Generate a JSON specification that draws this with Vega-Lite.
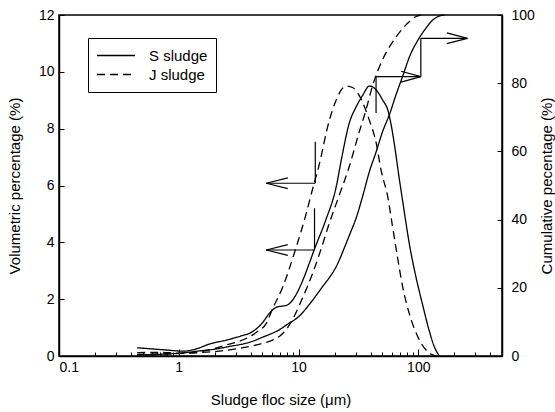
{
  "$schema": "https://vega.github.io/schema/vega-lite/v6.json",
  "width": 443,
  "height": 341,
  "autosize": {"type": "none"},
  "padding": {"left": 59, "top": 15, "right": 53, "bottom": 56},
  "background": "white",
  "config": {
    "font": "Liberation Sans",
    "view": {"stroke": "black", "strokeWidth": 1.5},
    "axis": {
      "grid": false,
      "domainColor": "black",
      "domainWidth": 1.5,
      "tickColor": "black",
      "tickWidth": 1,
      "labelColor": "black",
      "titleColor": "black",
      "labelFont": "Liberation Sans",
      "titleFont": "Liberation Sans",
      "labelFontSize": 14,
      "titleFontSize": 15,
      "titleFontWeight": "normal",
      "labelOverlap": false
    },
    "legend": {
      "labelFont": "Liberation Sans",
      "labelFontSize": 15,
      "labelColor": "black"
    }
  },
  "datasets": {
    "vol": [
      {"size": 0.45, "pct": 0.29, "sludge": "S sludge"},
      {"size": 0.74, "pct": 0.22, "sludge": "S sludge"},
      {"size": 1.09, "pct": 0.17, "sludge": "S sludge"},
      {"size": 1.4, "pct": 0.25, "sludge": "S sludge"},
      {"size": 1.8, "pct": 0.42, "sludge": "S sludge"},
      {"size": 2.5, "pct": 0.56, "sludge": "S sludge"},
      {"size": 3.4, "pct": 0.72, "sludge": "S sludge"},
      {"size": 3.9, "pct": 0.8, "sludge": "S sludge"},
      {"size": 5.0, "pct": 1.17, "sludge": "S sludge"},
      {"size": 5.7, "pct": 1.5, "sludge": "S sludge"},
      {"size": 6.5, "pct": 1.71, "sludge": "S sludge"},
      {"size": 8.1, "pct": 1.8, "sludge": "S sludge"},
      {"size": 9.2, "pct": 2.05, "sludge": "S sludge"},
      {"size": 10.6, "pct": 2.56, "sludge": "S sludge"},
      {"size": 12.3, "pct": 3.26, "sludge": "S sludge"},
      {"size": 13.5, "pct": 3.73, "sludge": "S sludge"},
      {"size": 16.9, "pct": 4.79, "sludge": "S sludge"},
      {"size": 20.5, "pct": 5.9, "sludge": "S sludge"},
      {"size": 23, "pct": 7.0, "sludge": "S sludge"},
      {"size": 26.5, "pct": 8.19, "sludge": "S sludge"},
      {"size": 30.3, "pct": 8.77, "sludge": "S sludge"},
      {"size": 34.4, "pct": 9.18, "sludge": "S sludge"},
      {"size": 39, "pct": 9.5, "sludge": "S sludge"},
      {"size": 44.6, "pct": 9.36, "sludge": "S sludge"},
      {"size": 50.5, "pct": 9.0, "sludge": "S sludge"},
      {"size": 55.6, "pct": 8.66, "sludge": "S sludge"},
      {"size": 59, "pct": 8.19, "sludge": "S sludge"},
      {"size": 63, "pct": 7.48, "sludge": "S sludge"},
      {"size": 69, "pct": 6.31, "sludge": "S sludge"},
      {"size": 76, "pct": 5.14, "sludge": "S sludge"},
      {"size": 84, "pct": 3.97, "sludge": "S sludge"},
      {"size": 95.5, "pct": 2.79, "sludge": "S sludge"},
      {"size": 108, "pct": 1.85, "sludge": "S sludge"},
      {"size": 123, "pct": 0.91, "sludge": "S sludge"},
      {"size": 136, "pct": 0.33, "sludge": "S sludge"},
      {"size": 150, "pct": 0, "sludge": "S sludge"},
      {"size": 0.45, "pct": 0.12, "sludge": "J sludge"},
      {"size": 0.7, "pct": 0.13, "sludge": "J sludge"},
      {"size": 1.0, "pct": 0.1, "sludge": "J sludge"},
      {"size": 1.5, "pct": 0.15, "sludge": "J sludge"},
      {"size": 2.0, "pct": 0.27, "sludge": "J sludge"},
      {"size": 2.65, "pct": 0.42, "sludge": "J sludge"},
      {"size": 3.5, "pct": 0.58, "sludge": "J sludge"},
      {"size": 4.5, "pct": 0.85, "sludge": "J sludge"},
      {"size": 5.38, "pct": 1.15, "sludge": "J sludge"},
      {"size": 6.1, "pct": 1.68, "sludge": "J sludge"},
      {"size": 7.4, "pct": 2.44, "sludge": "J sludge"},
      {"size": 9.4, "pct": 3.73, "sludge": "J sludge"},
      {"size": 11.6, "pct": 5.02, "sludge": "J sludge"},
      {"size": 13.5, "pct": 6.08, "sludge": "J sludge"},
      {"size": 14.5, "pct": 6.54, "sludge": "J sludge"},
      {"size": 18.1, "pct": 8.3, "sludge": "J sludge"},
      {"size": 20.6, "pct": 9.0, "sludge": "J sludge"},
      {"size": 23.3, "pct": 9.42, "sludge": "J sludge"},
      {"size": 25.5, "pct": 9.5, "sludge": "J sludge"},
      {"size": 28.3, "pct": 9.45, "sludge": "J sludge"},
      {"size": 32, "pct": 9.18, "sludge": "J sludge"},
      {"size": 39, "pct": 8.3, "sludge": "J sludge"},
      {"size": 44.6, "pct": 7.48, "sludge": "J sludge"},
      {"size": 48.9, "pct": 6.54, "sludge": "J sludge"},
      {"size": 55.6, "pct": 5.6, "sludge": "J sludge"},
      {"size": 61, "pct": 4.55, "sludge": "J sludge"},
      {"size": 67, "pct": 3.49, "sludge": "J sludge"},
      {"size": 74, "pct": 2.44, "sludge": "J sludge"},
      {"size": 84, "pct": 1.5, "sludge": "J sludge"},
      {"size": 99, "pct": 0.68, "sludge": "J sludge"},
      {"size": 116, "pct": 0.21, "sludge": "J sludge"},
      {"size": 141, "pct": 0, "sludge": "J sludge"}
    ],
    "cum": [
      {"size": 0.45, "pct": 0.3, "sludge": "S sludge"},
      {"size": 0.7, "pct": 0.5, "sludge": "S sludge"},
      {"size": 1.0, "pct": 0.8, "sludge": "S sludge"},
      {"size": 1.5, "pct": 1.5, "sludge": "S sludge"},
      {"size": 2.0, "pct": 2.0, "sludge": "S sludge"},
      {"size": 2.65, "pct": 2.8, "sludge": "S sludge"},
      {"size": 3.5, "pct": 3.6, "sludge": "S sludge"},
      {"size": 4.2, "pct": 4.4, "sludge": "S sludge"},
      {"size": 5.0, "pct": 5.5, "sludge": "S sludge"},
      {"size": 5.7, "pct": 6.3, "sludge": "S sludge"},
      {"size": 7.0, "pct": 7.8, "sludge": "S sludge"},
      {"size": 8.0, "pct": 9.2, "sludge": "S sludge"},
      {"size": 10, "pct": 11.5, "sludge": "S sludge"},
      {"size": 13.2, "pct": 16.5, "sludge": "S sludge"},
      {"size": 16, "pct": 20.5, "sludge": "S sludge"},
      {"size": 18.1, "pct": 23, "sludge": "S sludge"},
      {"size": 20.5, "pct": 26, "sludge": "S sludge"},
      {"size": 24, "pct": 31.5, "sludge": "S sludge"},
      {"size": 27, "pct": 36, "sludge": "S sludge"},
      {"size": 30.3, "pct": 40.5, "sludge": "S sludge"},
      {"size": 34.4, "pct": 47, "sludge": "S sludge"},
      {"size": 39, "pct": 54, "sludge": "S sludge"},
      {"size": 44.6, "pct": 60, "sludge": "S sludge"},
      {"size": 50, "pct": 65.5, "sludge": "S sludge"},
      {"size": 57.7, "pct": 71, "sludge": "S sludge"},
      {"size": 65, "pct": 76.5, "sludge": "S sludge"},
      {"size": 74, "pct": 82, "sludge": "S sludge"},
      {"size": 85, "pct": 88, "sludge": "S sludge"},
      {"size": 100, "pct": 92.8, "sludge": "S sludge"},
      {"size": 115, "pct": 96, "sludge": "S sludge"},
      {"size": 130, "pct": 98.3, "sludge": "S sludge"},
      {"size": 145, "pct": 99.5, "sludge": "S sludge"},
      {"size": 165, "pct": 100, "sludge": "S sludge"},
      {"size": 0.45, "pct": 0.5, "sludge": "J sludge"},
      {"size": 0.7, "pct": 0.6, "sludge": "J sludge"},
      {"size": 1.0, "pct": 0.7, "sludge": "J sludge"},
      {"size": 1.5, "pct": 1.0, "sludge": "J sludge"},
      {"size": 2.0, "pct": 1.3, "sludge": "J sludge"},
      {"size": 2.65, "pct": 1.8, "sludge": "J sludge"},
      {"size": 3.5, "pct": 2.5, "sludge": "J sludge"},
      {"size": 5.0, "pct": 3.7, "sludge": "J sludge"},
      {"size": 6.0, "pct": 4.6, "sludge": "J sludge"},
      {"size": 6.95, "pct": 5.8, "sludge": "J sludge"},
      {"size": 8.0, "pct": 8.0, "sludge": "J sludge"},
      {"size": 9.0, "pct": 11, "sludge": "J sludge"},
      {"size": 10.8, "pct": 17, "sludge": "J sludge"},
      {"size": 13.2, "pct": 24.5, "sludge": "J sludge"},
      {"size": 15.3, "pct": 31, "sludge": "J sludge"},
      {"size": 18.1, "pct": 39, "sludge": "J sludge"},
      {"size": 21.8, "pct": 47, "sludge": "J sludge"},
      {"size": 26.5, "pct": 55.5, "sludge": "J sludge"},
      {"size": 32, "pct": 65.5, "sludge": "J sludge"},
      {"size": 36.5, "pct": 72, "sludge": "J sludge"},
      {"size": 41.7, "pct": 79.5, "sludge": "J sludge"},
      {"size": 50.5, "pct": 87, "sludge": "J sludge"},
      {"size": 65, "pct": 93.5, "sludge": "J sludge"},
      {"size": 84, "pct": 98, "sludge": "J sludge"},
      {"size": 95, "pct": 99.5, "sludge": "J sludge"},
      {"size": 105, "pct": 100, "sludge": "J sludge"}
    ],
    "arrows": [
      {"size": 13.8, "pct": 7.54, "size2": 13.8, "pct2": 6.08},
      {"size": 13.8, "pct": 6.08, "size2": 5.38, "pct2": 6.08},
      {"size": 5.38, "pct": 6.08, "size2": 8.14, "pct2": 6.27},
      {"size": 5.38, "pct": 6.08, "size2": 8.14, "pct2": 5.89},
      {"size": 13.6, "pct": 5.2, "size2": 13.6, "pct2": 3.73},
      {"size": 13.6, "pct": 3.73, "size2": 5.38, "pct2": 3.73},
      {"size": 5.38, "pct": 3.73, "size2": 8.14, "pct2": 3.92},
      {"size": 5.38, "pct": 3.73, "size2": 8.14, "pct2": 3.54},
      {"size": 44.4, "pct": 8.55, "size2": 44.4, "pct2": 9.83},
      {"size": 44.4, "pct": 9.83, "size2": 105, "pct2": 9.83},
      {"size": 105, "pct": 9.83, "size2": 71.8, "pct2": 10.02},
      {"size": 105, "pct": 9.83, "size2": 71.8, "pct2": 9.64},
      {"size": 105, "pct": 9.83, "size2": 105, "pct2": 11.18},
      {"size": 105, "pct": 11.18, "size2": 257, "pct2": 11.18},
      {"size": 257, "pct": 11.18, "size2": 173, "pct2": 11.37},
      {"size": 257, "pct": 11.18, "size2": 173, "pct2": 10.99}
    ]
  },
  "layer": [
    {
      "layer": [
        {
          "data": {"name": "vol"},
          "mark": {"type": "line", "color": "black", "strokeWidth": 1.3, "interpolate": "monotone"},
          "encoding": {
            "x": {
              "field": "size",
              "type": "quantitative",
              "scale": {"type": "log", "domain": [0.1, 500], "nice": false},
              "axis": {
                "title": "Sludge floc size (\u03bcm)",
                "values": [0.1, 0.2, 0.3, 0.4, 0.5, 0.6, 0.7, 0.8, 0.9, 1, 2, 3, 4, 5, 6, 7, 8, 9, 10, 20, 30, 40, 50, 60, 70, 80, 90, 100, 200, 300, 400],
                "labelExpr": "indexof([0.1, 1, 10, 100], datum.value) >= 0 ? format(datum.value, '~g') : ''",
                "tickSize": {"condition": {"test": "indexof([0.1, 1, 10, 100], datum.value) >= 0", "value": -7}, "value": -4},
                "labelPadding": 11,
                "titlePadding": 15
              }
            },
            "y": {
              "field": "pct",
              "type": "quantitative",
              "scale": {"domain": [0, 12], "nice": false},
              "axis": {
                "title": "Volumetric percentage (%)",
                "values": [0, 2, 4, 6, 8, 10, 12],
                "tickSize": -5,
                "labelPadding": 10,
                "titlePadding": 16
              }
            },
            "strokeDash": {
              "field": "sludge",
              "type": "nominal",
              "scale": {"domain": ["S sludge", "J sludge"], "range": [[1, 0], [8, 5]]},
              "legend": {
                "title": null,
                "orient": "none",
                "legendX": 29,
                "legendY": 23,
                "strokeColor": "black",
                "fillColor": "white",
                "padding": 8,
                "rowPadding": 0,
                "clipHeight": 19,
                "symbolType": "stroke",
                "symbolSize": 1444,
                "symbolStrokeWidth": 1.3,
                "symbolStrokeColor": "black",
                "labelOffset": 13
              }
            }
          }
        },
        {
          "data": {"name": "arrows"},
          "mark": {"type": "rule", "color": "black", "strokeWidth": 1.2},
          "encoding": {
            "x": {"field": "size", "type": "quantitative"},
            "x2": {"field": "size2"},
            "y": {"field": "pct", "type": "quantitative"},
            "y2": {"field": "pct2"}
          }
        }
      ]
    },
    {
      "data": {"name": "cum"},
      "mark": {"type": "line", "color": "black", "strokeWidth": 1.3, "interpolate": "monotone"},
      "encoding": {
        "x": {"field": "size", "type": "quantitative"},
        "y": {
          "field": "pct",
          "type": "quantitative",
          "scale": {"domain": [0, 100], "nice": false},
          "axis": {
            "orient": "right",
            "title": "Cumulative pecentage (%)",
            "titleAngle": 270,
            "values": [0, 20, 40, 60, 80, 100],
            "tickSize": -5,
            "labelPadding": 14,
            "titlePadding": 20
          }
        },
        "strokeDash": {"field": "sludge", "type": "nominal"}
      }
    }
  ],
  "resolve": {"scale": {"y": "independent"}}
}
